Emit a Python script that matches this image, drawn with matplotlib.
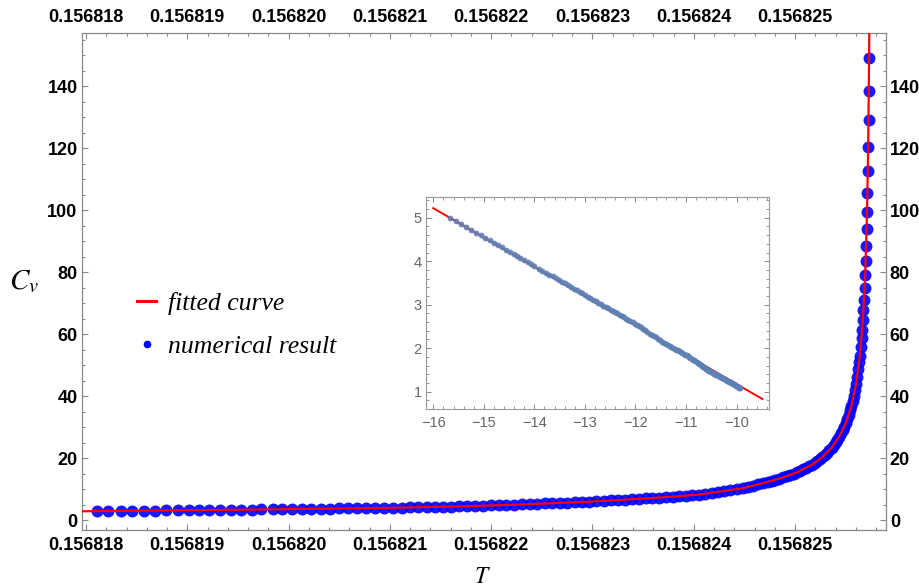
import numpy as np
import matplotlib
matplotlib.use("Agg")
import matplotlib.pyplot as plt
from matplotlib.lines import Line2D
from matplotlib.ticker import MultipleLocator

plt.rcParams['font.family'] = ['Liberation Sans', 'DejaVu Sans']
plt.rcParams['mathtext.fontset'] = 'stix'

T0 = 0.156818          # reference temperature (left tick)
Tc = 0.1568257552      # divergence point

# numerical result: T - T0 (units of 1e-6) and C_v
dT_num = [0.1115, 0.2201, 0.3425, 0.4571, 0.5726, 0.6841, 0.7927, 0.9052, 1.0138, 1.1185,
          1.2172, 1.3228, 1.4314, 1.5271, 1.6357, 1.7305, 1.8430, 1.9378, 2.0336,
          2.1293, 2.2211, 2.3169, 2.4087, 2.5005, 2.5893, 2.6782, 2.7641, 2.8529, 2.9388, 3.0276,
          3.1165, 3.1984, 3.2804, 3.3633, 3.4452, 3.5271, 3.6002, 3.6802,
          3.7601, 3.8391, 3.9181, 3.9961, 4.0741, 4.1510, 4.2280,
          4.3041, 4.3801, 4.4551, 4.5301, 4.6042, 4.6782, 4.7512, 4.8243, 4.8964, 4.9684,
          5.0395, 5.1106, 5.1807, 5.2507, 5.3198, 5.3889, 5.4571,
          5.5252, 5.5923, 5.6594, 5.7256, 5.7917,
          5.8569, 5.9220, 5.9862, 6.0503,
          6.1135, 6.1767, 6.2389, 6.3011, 6.3623, 6.4235, 6.4837, 6.5350, 6.5874, 6.6387, 6.6881,
          6.7321, 6.7681, 6.8020, 6.8444, 6.8837, 6.9202, 6.9543, 6.9862, 7.0160, 7.0505,
          7.0824, 7.1121, 7.1397, 7.1653, 7.1937, 7.2200, 7.2442, 7.2703, 7.2943, 7.3163,
          7.3394, 7.3605, 7.3800, 7.3999, 7.4182, 7.4367, 7.4537, 7.4706, 7.4860, 7.5013,
          7.5163, 7.5298, 7.5430, 7.5559, 7.5682, 7.5799, 7.5910, 7.6021, 7.6124, 7.6246,
          7.6325, 7.6397, 7.6480, 7.6564, 7.6619, 7.6689, 7.6750, 7.6807, 7.6864, 7.6916,
          7.6968, 7.7014, 7.7060, 7.7102, 7.7140, 7.7179, 7.7214, 7.7248, 7.7277, 7.7306]
Cv_num = [2.93, 2.97, 3.00, 3.04, 3.08, 3.11, 3.15, 3.18, 3.21, 3.25,
          3.28, 3.32, 3.36, 3.39, 3.43, 3.46, 3.50, 3.54, 3.57,
          3.61, 3.65, 3.69, 3.74, 3.78, 3.82, 3.86, 3.90, 3.94, 3.98, 4.02,
          4.06, 4.12, 4.17, 4.23, 4.28, 4.34, 4.39, 4.44,
          4.52, 4.60, 4.68, 4.76, 4.84, 4.92, 5.00,
          5.08, 5.18, 5.29, 5.39, 5.49, 5.59, 5.69, 5.79, 5.89, 5.99,
          6.12, 6.25, 6.37, 6.50, 6.63, 6.75, 6.88,
          7.02, 7.16, 7.31, 7.45, 7.59,
          7.76, 7.93, 8.10, 8.27,
          8.57, 8.85, 9.15, 9.45, 9.75, 10.05, 10.32, 10.70, 11.10, 11.55, 12.00,
          12.4, 12.7, 13.0, 13.4, 13.8, 14.2, 14.6, 15.0, 15.4, 15.9,
          16.4, 16.9, 17.4, 17.9, 18.5, 19.1, 19.7, 20.4, 21.1, 21.8,
          22.6, 23.4, 24.2, 25.1, 26.0, 27.0, 28.0, 29.1, 30.2, 31.4,
          32.7, 34.0, 35.4, 36.9, 38.5, 40.2, 42.0, 44.0, 46.1, 48.9,
          51.0, 53.1, 55.8, 58.9, 61.2, 64.5, 67.7, 71.1, 75.0, 79.0,
          83.6, 88.4, 93.8, 99.5, 105.6, 112.7, 120.4, 129.1, 138.5, 149.0]

# fitted curve
dT_fit = [-0.0494, 0.1115, 1.1185, 2.1293, 3.1165, 3.7601, 4.3041, 4.9684, 5.4571, 5.7917,
          6.0503, 6.3011, 6.4837, 6.6881, 6.8444, 7.0160, 7.1653, 7.2703, 7.3605, 7.4367,
          7.5013, 7.5559, 7.6021, 7.6397, 7.6689, 7.6916, 7.7102, 7.7214, 7.7306, 7.7351]
Cv_fit = [2.88, 2.93, 3.25, 3.61, 4.06, 4.52, 5.08, 5.99, 6.88, 7.59,
          8.27, 9.45, 10.32, 12.0, 13.4, 15.4, 17.9, 20.4, 23.4, 27.0,
          31.4, 36.9, 44.0, 53.1, 64.5, 79.0, 99.5, 120.4, 149.0, 170.0]

# inset: fitted straight line in log-log
lnt_fit = [-16.0, -9.49]
lnCv_fit = [5.22, 0.83]

x_ticks = [0.156818, 0.156819, 0.156820, 0.156821, 0.156822, 0.156823, 0.156824, 0.156825]
y_ticks = [0, 20, 40, 60, 80, 100, 120, 140]
inset_xticks = [-16, -15, -14, -13, -12, -11, -10]
inset_yticks = [1, 2, 3, 4, 5]

T_num = T0 + np.array(dT_num) * 1e-6
T_fit = T0 + np.array(dT_fit) * 1e-6

fig = plt.figure(figsize=(9.2, 5.87), dpi=100)
ax = fig.add_axes([0.0888, 0.0971, 0.8739, 0.8467])

ax.plot(T_num, Cv_num, 'o', color='#0000ff', ms=8.6, mec='none', alpha=0.9, zorder=2)
ax.plot(T_fit, Cv_fit, '-', color='#ff0000', lw=1.6, zorder=3)

ax.set_xlim(T0 - 0.0424e-6, T0 + 7.8943e-6)
ax.set_ylim(-3.16, 157.16)
ax.set_xticks(x_ticks, [f'{v:.6f}' for v in x_ticks], fontweight='bold', fontsize=13)
ax.set_yticks(y_ticks, [str(v) for v in y_ticks], fontweight='bold', fontsize=13)
ax.xaxis.set_minor_locator(MultipleLocator(2e-7))
ax.yaxis.set_minor_locator(MultipleLocator(5))
ax.tick_params(which='both', direction='in', top=True, right=True,
               labeltop=True, labelright=True, color='#888888', labelcolor='black')
ax.tick_params(which='major', length=4.2, width=0.8)
ax.tick_params(which='minor', length=2.0, width=0.8)
ax.tick_params(axis='x', which='major', pad=5)
ax.tick_params(axis='y', which='major', pad=3)
for s in ax.spines.values():
    s.set_color('#888888')
    s.set_linewidth(0.9)

ax.set_ylabel(r'$C_v$', rotation=0, fontsize=21, ha='center', va='center')
ax.yaxis.set_label_coords(-0.072, 0.5)
ax.set_xlabel(r'$T$', fontsize=17, va='center')
ax.xaxis.set_label_coords(0.499, -0.094)

handles = [Line2D([], [], color='#ff0000', lw=2.2),
           Line2D([], [], ls='none', marker='o', color='#0000ff', ms=4.5)]
ax.legend(handles, ['fitted curve', 'numerical result'], loc='upper left',
          bbox_to_anchor=(0.069, 0.478), frameon=False, borderpad=0, borderaxespad=0,
          handlelength=0.75, handletextpad=0.45, labelspacing=0.75,
          prop={'family': 'Liberation Serif', 'style': 'italic', 'size': 18.5})

# inset
ins = fig.add_axes([0.463, 0.3032, 0.3728, 0.3607])
lnt_num = np.log(1 - T_num / Tc)
lnCv_num = np.log(Cv_num)
ins.plot(lnt_fit, lnCv_fit, '-', color='#ff0000', lw=1.4, zorder=2)
ins.plot(lnt_num, lnCv_num, 'o', color='#5e81b5', ms=4.2, mec='none', alpha=0.9, zorder=3)
ins.set_xlim(-16.145, -9.36)
ins.set_ylim(0.60, 5.47)
ins.set_xticks(inset_xticks)
ins.set_yticks(inset_yticks)
ins.xaxis.set_minor_locator(MultipleLocator(0.2))
ins.yaxis.set_minor_locator(MultipleLocator(0.2))
ins.tick_params(which='both', direction='in', top=True, right=True,
                color='#888888', labelcolor='#666666', labelsize=10.5)
ins.tick_params(which='major', length=3.5, width=0.7)
ins.tick_params(which='minor', length=2.0, width=0.6)
ins.tick_params(axis='x', pad=5)
ins.tick_params(axis='y', pad=3)
for s in ins.spines.values():
    s.set_color('#999999')
    s.set_linewidth(0.8)

fig.savefig('out.png', dpi=100)
